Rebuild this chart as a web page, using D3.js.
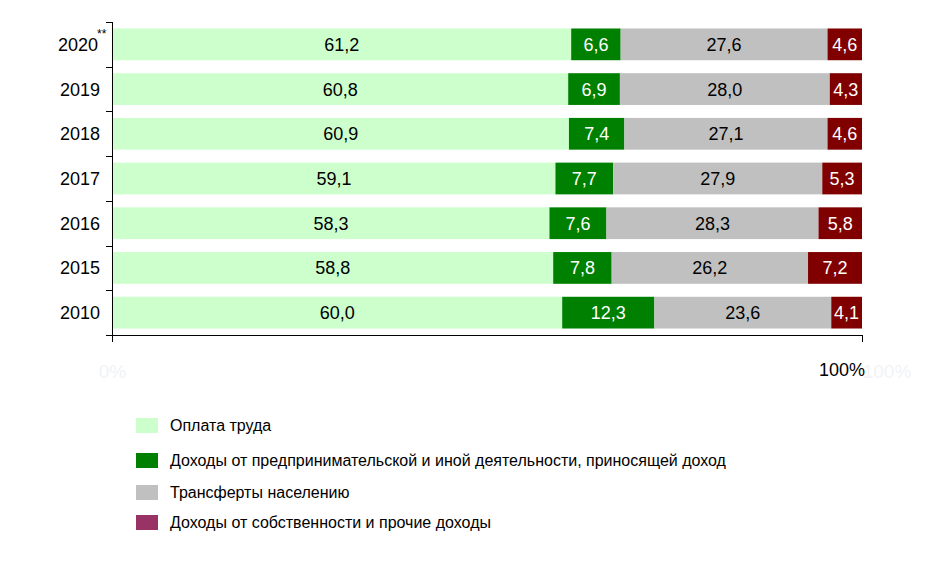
<!DOCTYPE html>
<html><head><meta charset="utf-8">
<script src="https://cdn.jsdelivr.net/npm/d3@7"></script>
<style>body{margin:0;background:#fff}svg{display:block;font-family:Arial,"Liberation Sans",sans-serif}</style>
</head><body><svg id="c" width="936" height="569"></svg>
<script>
const years = ["2020","2019","2018","2017","2016","2015","2010"];
const wages = [61.2,60.8,60.9,59.1,58.3,58.8,60.0];
const business = [6.6,6.9,7.4,7.7,7.6,7.8,12.3];
const transfers = [27.6,28.0,27.1,27.9,28.3,26.2,23.6];
const property = [4.6,4.3,4.6,5.3,5.8,7.2,4.1];
const seriesNames = ["Оплата труда","Доходы от предпринимательской и иной деятельности, приносящей доход","Трансферты населению","Доходы от собственности и прочие доходы"];
const barColors = ["#ccffcc","#008000","#c0c0c0","#800000"];
const legendColors = ["#ccffcc","#008000","#c0c0c0","#993366"];
const labelColors = ["#000","#fff","#000","#fff"];
const axisTicks = ["0%","100%"];

const svg = d3.select("#c");
const x = d3.scaleLinear().domain([0,100]).range([112.5,862]);
const y = d3.scaleBand().domain(years).range([22,335]).paddingInner(0.29).paddingOuter(0.145);
const series = [wages,business,transfers,property];

const rows = years.map((yr,i)=>{
  let acc=0;
  return series.map((s,k)=>{const d={year:yr,k,v:s[i],x0:acc,x1:acc+s[i]};acc+=s[i];return d;});
});

const g = svg.append("g");
rows.forEach(r=>{
  g.selectAll(null).data(r).enter().append("rect")
    .attr("x",d=>x(d.x0)).attr("width",d=>x(d.x1)-x(d.x0))
    .attr("y",d=>y(d.year)).attr("height",y.bandwidth())
    .attr("fill",d=>barColors[d.k]);
  g.selectAll(null).data(r).enter().append("text")
    .attr("x",d=>(x(d.x0)+x(d.x1))/2).attr("y",d=>y(d.year)+y.bandwidth()/2)
    .attr("dy","0.36em").attr("text-anchor","middle")
    .attr("font-size",18).attr("fill",d=>labelColors[d.k])
    .text(d=>d.v.toFixed(1).replace(".",","));
});

// y axis
const bounds = d3.range(years.length+1).map(i=>22+i*(313/years.length));
svg.append("line").attr("x1",112.5).attr("x2",112.5).attr("y1",22).attr("y2",342).attr("stroke","#000");
svg.selectAll(null).data(bounds).enter().append("line")
  .attr("x1",106).attr("x2",112.5).attr("y1",d=>Math.round(d)+0.5).attr("y2",d=>Math.round(d)+0.5).attr("stroke","#000");
// x axis
svg.append("line").attr("x1",112).attr("x2",862.5).attr("y1",335.5).attr("y2",335.5).attr("stroke","#000");
svg.append("line").attr("x1",862.5).attr("x2",862.5).attr("y1",335).attr("y2",342).attr("stroke","#000");

// year labels
svg.selectAll(null).data(years).enter().append("text")
  .attr("x",d=>d==="2020"?98:100).attr("y",d=>y(d)+y.bandwidth()/2).attr("dy","0.36em")
  .attr("text-anchor","end").attr("font-size",18).attr("fill","#000").text(d=>d);
svg.append("text").attr("x",97).attr("y",y("2020")+10).attr("font-size",12).attr("fill","#000").text("**");

// x tick labels (faint ghosts + visible 100%)
svg.append("text").attr("x",x(0)).attr("y",378).attr("text-anchor","middle").attr("font-size",19).attr("fill","#f0f3f7").text(axisTicks[0]);
svg.append("text").attr("x",x(100)+25).attr("y",378).attr("text-anchor","middle").attr("font-size",19).attr("fill","#f0f3f7").text(axisTicks[1]);
svg.append("text").attr("x",x(100)+3).attr("y",376).attr("text-anchor","end").attr("font-size",18).attr("fill","#000").text(axisTicks[1]);

// legend
const ly = [425,460,492,522];
seriesNames.forEach((n,i)=>{
  svg.append("rect").attr("x",136).attr("y",ly[i]-7).attr("width",22).attr("height",15).attr("fill",legendColors[i]);
  svg.append("text").attr("x",170).attr("y",ly[i]).attr("dy","0.36em").attr("font-size",16).attr("fill","#000").text(n);
});
</script></body></html>
